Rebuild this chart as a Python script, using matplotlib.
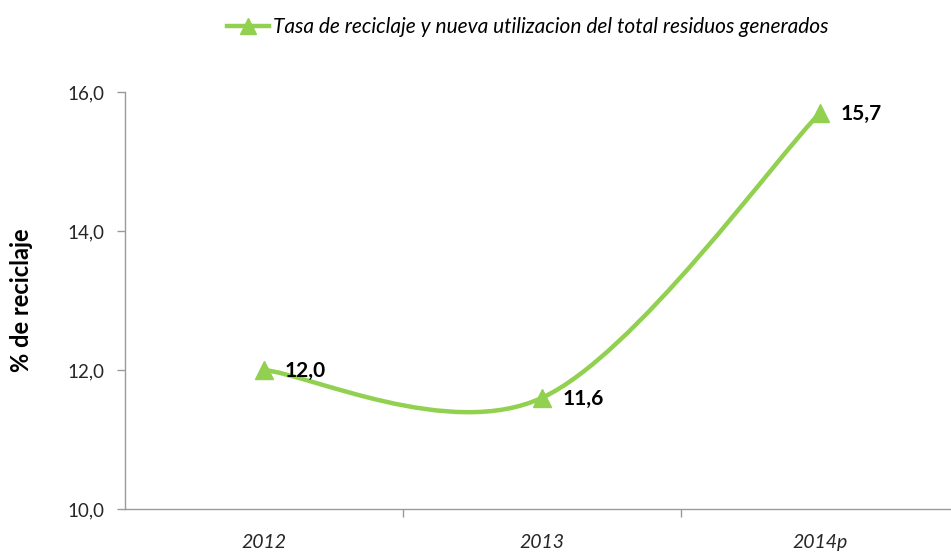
import numpy as np
import matplotlib.pyplot as plt
from matplotlib.path import Path
from matplotlib.patches import PathPatch
from matplotlib.lines import Line2D

plt.rcParams['font.family'] = ['Lato', 'DejaVu Sans']

years = ['2012', '2013', '2014p']
tasa = [12.0, 11.6, 15.7]
serie = 'Tasa de reciclaje y nueva utilizacion del total residuos generados'
verde = '#92D050'

fig = plt.figure(figsize=(9.51, 5.52), dpi=100)
ax = fig.add_axes([125 / 951, 43 / 552, 826 / 951, 417 / 552])

x = np.arange(len(years), dtype=float)
y = np.array(tasa)

# smoothed line (Excel-style bezier through the points)
pts = np.column_stack([x, y])
verts = [pts[0]]
codes = [Path.MOVETO]
n = len(pts)
for i in range(n - 1):
    p_prev = pts[i - 1] if i > 0 else pts[i]
    p_next2 = pts[i + 2] if i + 2 < n else pts[i + 1]
    c1 = pts[i] + (pts[i + 1] - p_prev) / 6
    c2 = pts[i + 1] - (p_next2 - pts[i]) / 6
    verts += [c1, c2, pts[i + 1]]
    codes += [Path.CURVE4] * 3
ax.add_patch(PathPatch(Path(verts, codes), facecolor='none', edgecolor=verde,
                       lw=3.2, capstyle='round', zorder=2))
ax.plot(x, y, ls='none', marker='^', ms=13, color=verde, zorder=3)

for xi, yi in zip(x, y):
    ax.annotate(f'{yi:.1f}'.replace('.', ','), (xi, yi), xytext=(15, -1),
                textcoords='offset points', ha='left', va='center',
                fontsize=15, fontweight='bold', color='black')

ax.set_xlim(-0.5, 2.471)
ax.set_ylim(10, 16)
ax.set_yticks([10, 12, 14, 16])
ax.set_yticklabels([f'{v:.1f}'.replace('.', ',') for v in [10, 12, 14, 16]])
ax.set_xticks(x)
ax.set_xticklabels(years, fontstyle='italic')
ax.set_xticks([0.5, 1.5], minor=True)
ax.tick_params(axis='x', which='major', length=0, pad=18, labelsize=14, labelcolor='#262626')
ax.tick_params(axis='x', which='minor', length=6, width=1, color='#9a9a9a')
ax.tick_params(axis='y', length=6, width=1, color='#9a9a9a', pad=9, labelsize=13.5, labelcolor='#262626')

for s in ['top', 'right']:
    ax.spines[s].set_visible(False)
for s in ['left', 'bottom']:
    ax.spines[s].set_color('#9a9a9a')
    ax.spines[s].set_linewidth(1)

ax.set_ylabel('% de reciclaje', fontsize=17, fontweight='bold', color='black')
ax.yaxis.set_label_coords(-0.111, 0.5)

handle = Line2D([], [], color=verde, lw=3.2, marker='^', ms=11)
fig.legend([handle], [serie], loc='center', bbox_to_anchor=(0.555, 0.951),
           frameon=False, handlelength=2.0, handletextpad=0.2,
           prop={'style': 'italic', 'size': 15})

fig.savefig('out.png', dpi=100)
